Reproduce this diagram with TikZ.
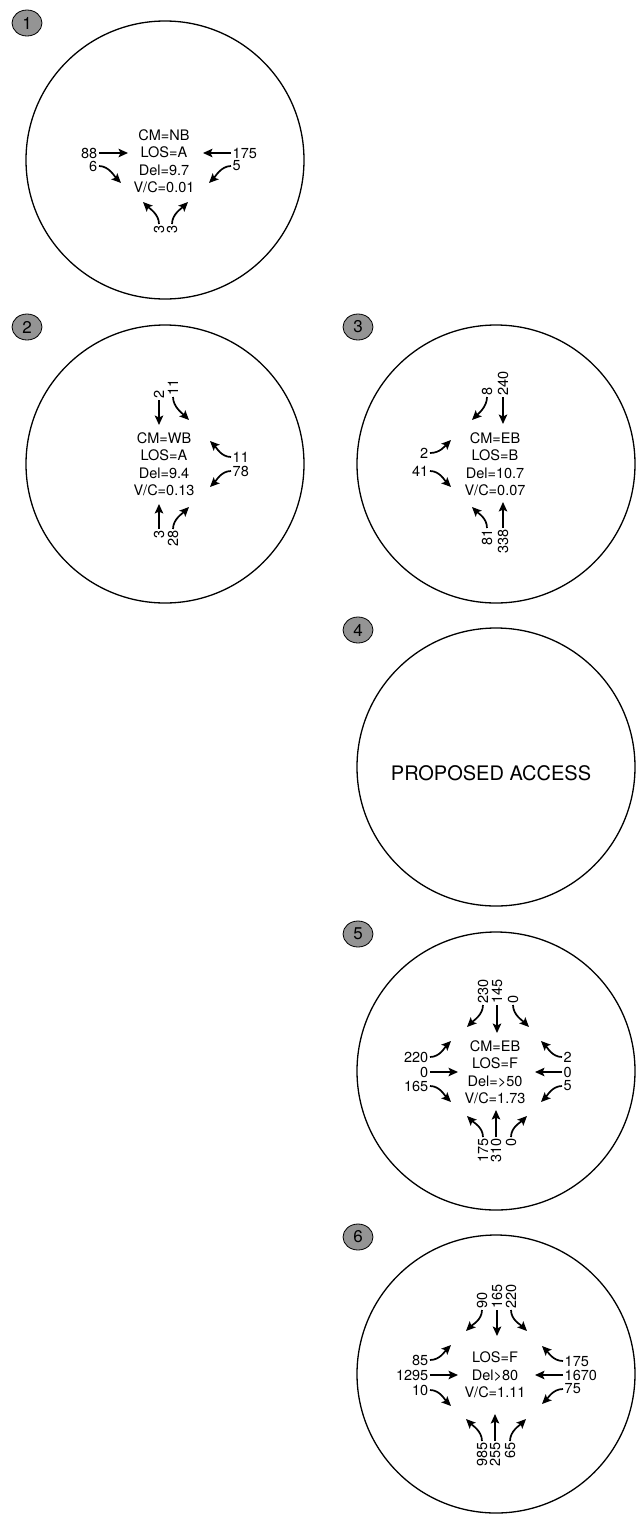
\documentclass[tikz,border=0pt]{standalone}
\usepackage{fontspec}
\setmainfont{TeX Gyre Heros}
\usetikzlibrary{arrows.meta,shapes.geometric}
\newcommand\lblfnt{\fontsize{14.5}{17.5}\selectfont}
\begin{document}
\begin{tikzpicture}[x=1pt,y=-1pt,
  ring/.style={draw=black,line width=1.3pt,circle,minimum size=278pt,inner sep=0pt},
  badge/.style={draw=black,line width=0.8pt,fill=black!42,ellipse,minimum width=30pt,minimum height=26pt,inner sep=0pt,font=\fontsize{17}{17}\selectfont},
  txt/.style={font=\lblfnt,align=center,inner sep=0pt},
  lab/.style={font=\lblfnt,inner sep=1.5pt},
  labW/.style={lab,anchor=east},
  labE/.style={lab,anchor=west},
  labN/.style={lab,rotate=90,anchor=west},
  labS/.style={lab,rotate=90,anchor=east},
  arr/.style={line width=1.7pt,-{Stealth[length=9.5pt,width=8.5pt,inset=2pt]}}]
\fill[white] (0,0) rectangle (638,1521);
\useasboundingbox (0,0) rectangle (638,1521);

% ---------- circle 1
\node[ring] (o1) at (165,160) {};
\node[badge] (b1) at (27,23) {1};
\node[txt] (t1) at (164,161) {CM=NB\\LOS=A\\Del=9.7\\V/C=0.01};
\node[labW] (w1a) at (99,153) {88}; \coordinate (w1ae) at (128,153);
\draw[arr] (w1a.east) -- (w1ae);
\node[labW] (w1b) at (99,166) {6}; \coordinate (w1be) at (121,183);
\draw[arr] (w1b.east) .. controls +(10,0) and +(-6,-6) .. (w1be);
\node[labE] (e1a) at (231,153) {175}; \coordinate (e1ae) at (203,153);
\draw[arr] (e1a.west) -- (e1ae);
\node[labE] (e1b) at (231,166) {5}; \coordinate (e1be) at (209,183);
\draw[arr] (e1b.west) .. controls +(-10,0) and +(6,-6) .. (e1be);
\node[labS] (s1a) at (159,224) {3}; \coordinate (s1ae) at (143,202);
\draw[arr] (s1a.east) .. controls +(0,-10) and +(6,6) .. (s1ae);
\node[labS] (s1b) at (172,224) {3}; \coordinate (s1be) at (188,202);
\draw[arr] (s1b.east) .. controls +(0,-10) and +(-6,6) .. (s1be);

% ---------- circle 2
\node[ring] (o2) at (165,464) {};
\node[badge] (b2) at (27,327) {2};
\node[txt] (t2) at (164,464) {CM=WB\\LOS=A\\Del=9.4\\V/C=0.13};
\node[labN] (n2a) at (159,400) {2}; \coordinate (n2ae) at (159,425);
\draw[arr] (n2a.west) -- (n2ae);
\node[labN] (n2b) at (173,397) {11}; \coordinate (n2be) at (189,420);
\draw[arr] (n2b.west) .. controls +(0,10) and +(-6,-6) .. (n2be);
\node[labE] (e2a) at (231,457) {11}; \coordinate (e2ae) at (210,441);
\draw[arr] (e2a.west) .. controls +(-10,0) and +(6,6) .. (e2ae);
\node[labE] (e2b) at (231,471) {78}; \coordinate (e2be) at (210,487);
\draw[arr] (e2b.west) .. controls +(-10,0) and +(6,-6) .. (e2be);
\node[labS] (s2a) at (159,529) {3}; \coordinate (s2ae) at (159,504);
\draw[arr] (s2a.east) -- (s2ae);
\node[labS] (s2b) at (173,529) {28}; \coordinate (s2be) at (189,507);
\draw[arr] (s2b.east) .. controls +(0,-10) and +(-6,6) .. (s2be);

% ---------- circle 3
\node[ring] (o3) at (496,464) {};
\node[badge] (b3) at (358,327) {3};
\node[txt] (t3) at (495,464) {CM=EB\\LOS=B\\Del=10.7\\V/C=0.07};
\node[labN] (n3a) at (487,397) {8}; \coordinate (n3ae) at (472,420);
\draw[arr] (n3a.west) .. controls +(0,10) and +(6,-6) .. (n3ae);
\node[labN] (n3b) at (503,397) {240}; \coordinate (n3be) at (503,424);
\draw[arr] (n3b.west) -- (n3be);
\node[labW] (w3a) at (430,453) {2}; \coordinate (w3ae) at (451,440);
\draw[arr] (w3a.east) .. controls +(10,0) and +(-6,6) .. (w3ae);
\node[labW] (w3b) at (430,471) {41}; \coordinate (w3be) at (451,487);
\draw[arr] (w3b.east) .. controls +(10,0) and +(-6,-6) .. (w3be);
\node[labS] (s3a) at (487,528) {81}; \coordinate (s3ae) at (472,507);
\draw[arr] (s3a.east) .. controls +(0,-10) and +(6,6) .. (s3ae);
\node[labS] (s3b) at (503,528) {338}; \coordinate (s3be) at (503,502);
\draw[arr] (s3b.east) -- (s3be);

% ---------- circle 4
\node[ring] (o4) at (496,767) {};
\node[badge] (b4) at (358,630) {4};
\node[txt,font=\fontsize{20}{24}\selectfont] (t4) at (491,773) {PROPOSED ACCESS};

% ---------- circle 5
\node[ring] (o5) at (496,1071) {};
\node[badge] (b5) at (358,934) {5};
\node[txt] (t5) at (495,1072) {CM=EB\\LOS=F\\Del=>50\\V/C=1.73};
\node[labN] (n5a) at (483,1005) {230}; \coordinate (n5ae) at (467,1027);
\draw[arr] (n5a.west) .. controls +(0,10) and +(6,-6) .. (n5ae);
\node[labN] (n5b) at (497,1005) {145}; \coordinate (n5be) at (497,1033);
\draw[arr] (n5b.west) -- (n5be);
\node[labN] (n5c) at (513,1005) {0}; \coordinate (n5ce) at (529,1027);
\draw[arr] (n5c.west) .. controls +(0,10) and +(-6,-6) .. (n5ce);
\node[labW] (w5a) at (430,1057) {220}; \coordinate (w5ae) at (451,1041);
\draw[arr] (w5a.east) .. controls +(10,0) and +(-6,6) .. (w5ae);
\node[labW] (w5b) at (430,1072) {0}; \coordinate (w5be) at (458,1072);
\draw[arr] (w5b.east) -- (w5be);
\node[labW] (w5c) at (430,1086) {165}; \coordinate (w5ce) at (451,1102);
\draw[arr] (w5c.east) .. controls +(10,0) and +(-6,-6) .. (w5ce);
\node[labE] (e5a) at (562,1057) {2}; \coordinate (e5ae) at (541,1041);
\draw[arr] (e5a.west) .. controls +(-10,0) and +(6,6) .. (e5ae);
\node[labE] (e5b) at (562,1072) {0}; \coordinate (e5be) at (535,1072);
\draw[arr] (e5b.west) -- (e5be);
\node[labE] (e5c) at (562,1086) {5}; \coordinate (e5ce) at (541,1102);
\draw[arr] (e5c.west) .. controls +(-10,0) and +(6,-6) .. (e5ce);
\node[labS] (s5a) at (483,1137) {175}; \coordinate (s5ae) at (467,1116);
\draw[arr] (s5a.east) .. controls +(0,-10) and +(6,6) .. (s5ae);
\node[labS] (s5b) at (496,1137) {310}; \coordinate (s5be) at (496,1110);
\draw[arr] (s5b.east) -- (s5be);
\node[labS] (s5c) at (511,1137) {0}; \coordinate (s5ce) at (527,1116);
\draw[arr] (s5c.east) .. controls +(0,-10) and +(-6,6) .. (s5ce);

% ---------- circle 6
\node[ring] (o6) at (496,1374) {};
\node[badge] (b6) at (358,1237) {6};
\node[txt] (t6) at (495,1375) {LOS=F\\Del>80\\V/C=1.11};
\node[labN] (n6a) at (482,1310) {90}; \coordinate (n6ae) at (466,1331);
\draw[arr] (n6a.west) .. controls +(0,10) and +(6,-6) .. (n6ae);
\node[labN] (n6b) at (497,1310) {165}; \coordinate (n6be) at (497,1336);
\draw[arr] (n6b.west) -- (n6be);
\node[labN] (n6c) at (511,1310) {220}; \coordinate (n6ce) at (527,1331);
\draw[arr] (n6c.west) .. controls +(0,10) and +(-6,-6) .. (n6ce);
\node[labW] (w6a) at (430,1360) {85}; \coordinate (w6ae) at (451,1345);
\draw[arr] (w6a.east) .. controls +(10,0) and +(-6,6) .. (w6ae);
\node[labW] (w6b) at (430,1375) {1295}; \coordinate (w6be) at (458,1375);
\draw[arr] (w6b.east) -- (w6be);
\node[labW] (w6c) at (430,1390) {10}; \coordinate (w6ce) at (451,1406);
\draw[arr] (w6c.east) .. controls +(10,0) and +(-6,-6) .. (w6ce);
\node[labE] (e6a) at (563,1361) {175}; \coordinate (e6ae) at (542,1346);
\draw[arr] (e6a.west) .. controls +(-10,0) and +(6,6) .. (e6ae);
\node[labE] (e6b) at (563,1375) {1670}; \coordinate (e6be) at (535,1375);
\draw[arr] (e6b.west) -- (e6be);
\node[labE] (e6c) at (563,1389) {75}; \coordinate (e6ce) at (542,1404);
\draw[arr] (e6c.west) .. controls +(-10,0) and +(6,-6) .. (e6ce);
\node[labS] (s6a) at (482,1441) {985}; \coordinate (s6ae) at (466,1419);
\draw[arr] (s6a.east) .. controls +(0,-10) and +(6,6) .. (s6ae);
\node[labS] (s6b) at (495,1441) {255}; \coordinate (s6be) at (495,1414);
\draw[arr] (s6b.east) -- (s6be);
\node[labS] (s6c) at (510,1441) {65}; \coordinate (s6ce) at (526,1419);
\draw[arr] (s6c.east) .. controls +(0,-10) and +(-6,6) .. (s6ce);
\end{tikzpicture}
\end{document}
